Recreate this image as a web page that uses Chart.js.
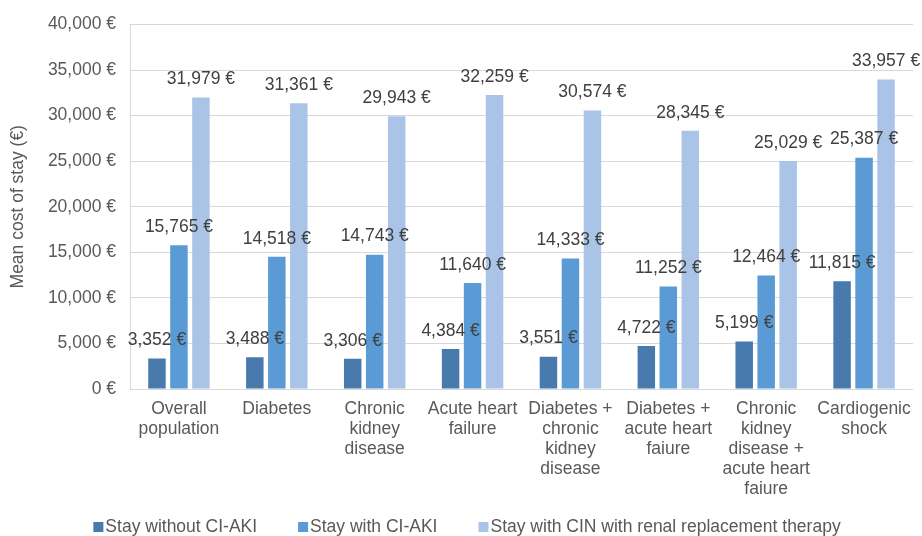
<!DOCTYPE html>
<html>
<head>
<meta charset="utf-8">
<script src="https://cdn.jsdelivr.net/npm/chart.js@4/dist/chart.umd.min.js"></script>
<style>
  html, body { margin: 0; padding: 0; background: #ffffff; }
  #wrap { width: 922px; height: 536px; position: relative; }
</style>
</head>
<body>
<div id="wrap"><canvas id="c" width="922" height="536"></canvas></div>
<script>
// Patient groups (multi-line axis labels)
const categories = [
  ['Overall', 'population'],
  ['Diabetes'],
  ['Chronic', 'kidney', 'disease'],
  ['Acute heart', 'failure'],
  ['Diabetes +', 'chronic', 'kidney', 'disease'],
  ['Diabetes +', 'acute heart', 'faiure'],
  ['Chronic', 'kidney', 'disease +', 'acute heart', 'faiure'],
  ['Cardiogenic', 'shock']
];

const seriesNames = [
  'Stay without CI-AKI',
  'Stay with CI-AKI',
  'Stay with CIN with renal replacement therapy'
];

// Mean cost of stay, in euros
const withoutAki = [3352, 3488, 3306, 4384, 3551, 4722, 5199, 11815];
const withAki    = [15765, 14518, 14743, 11640, 14333, 11252, 12464, 25387];
const withRrt    = [31979, 31361, 29943, 32259, 30574, 28345, 25029, 33957];

const yTicks = [0, 5000, 10000, 15000, 20000, 25000, 30000, 35000, 40000];

const seriesColors = ['#487AAD', '#5B9BD5', '#A9C4E6'];

const euro = v => Number(v).toLocaleString('en-US') + ' €';

const FONT = '"Liberation Sans", Arial, sans-serif';
const FS = 17.5;
const GREY = '#595959';

// Writes each bar's value just above it
const valueLabels = {
  id: 'valueLabels',
  afterDatasetsDraw(chart) {
    const ctx = chart.ctx;
    ctx.save();
    ctx.font = FS + 'px ' + FONT;
    ctx.fillStyle = '#404040';
    ctx.textAlign = 'center';
    ctx.textBaseline = 'middle';
    chart.data.datasets.forEach((ds, i) => {
      const meta = chart.getDatasetMeta(i);
      meta.data.forEach((bar, j) => {
        ctx.fillText(euro(ds.data[j]), bar.x, bar.y - 18);
      });
    });
    ctx.restore();
  }
};

// Compact legend row under the axis labels: small square, tight gap, text
const bottomLegend = {
  id: 'bottomLegend',
  afterDraw(chart) {
    const ctx = chart.ctx;
    const box = 10, gapText = 2, gapItem = 41;
    const y = chart.height - 9;
    ctx.save();
    ctx.font = FS + 'px ' + FONT;
    ctx.textBaseline = 'middle';
    ctx.textAlign = 'left';
    const items = chart.data.datasets.map(ds => ({
      text: ds.label, color: ds.backgroundColor, w: ctx.measureText(ds.label).width
    }));
    const total = items.reduce((s, it) => s + box + gapText + it.w, 0) + gapItem * (items.length - 1);
    let x = chart.width / 2 + 6 - total / 2;
    items.forEach(it => {
      ctx.fillStyle = it.color;
      ctx.fillRect(x, y - box / 2, box, box);
      x += box + gapText;
      ctx.fillStyle = GREY;
      ctx.fillText(it.text, x, y);
      x += it.w + gapItem;
    });
    ctx.restore();
  }
};

new Chart(document.getElementById('c'), {
  type: 'bar',
  data: {
    labels: categories,
    datasets: seriesNames.map((name, i) => ({
      label: name,
      data: [withoutAki, withAki, withRrt][i],
      backgroundColor: seriesColors[i]
    }))
  },
  options: {
    responsive: false,
    animation: false,
    devicePixelRatio: 1,
    categoryPercentage: 0.674,
    barPercentage: 0.795,
    layout: { padding: { top: 23, right: 9, bottom: 37, left: 0 } },
    plugins: {
      tooltip: { enabled: false },
      legend: { display: false }
    },
    scales: {
      x: {
        grid: { display: false, drawTicks: false },
        border: { display: false },
        ticks: {
          color: GREY,
          padding: 10,
          maxRotation: 0,
          autoSkip: false,
          font: { family: FONT, size: FS, lineHeight: 1.15 }
        },
        afterFit(scale) { scale.height = 110; }
      },
      y: {
        min: 0,
        max: 40000,
        afterBuildTicks(scale) { scale.ticks = yTicks.map(v => ({ value: v })); },
        grid: { color: '#D9D9D9', lineWidth: 1, drawTicks: false },
        border: { display: true, color: '#D9D9D9' },
        ticks: {
          color: GREY,
          padding: 14,
          font: { family: FONT, size: FS },
          callback: v => euro(v)
        },
        title: {
          display: true,
          text: 'Mean cost of stay (€)',
          color: GREY,
          font: { family: FONT, size: FS },
          padding: { top: 8, bottom: 0 }
        },
        afterFit(scale) { scale.width = 130; }
      }
    }
  },
  plugins: [valueLabels, bottomLegend]
});
</script>
</body>
</html>
